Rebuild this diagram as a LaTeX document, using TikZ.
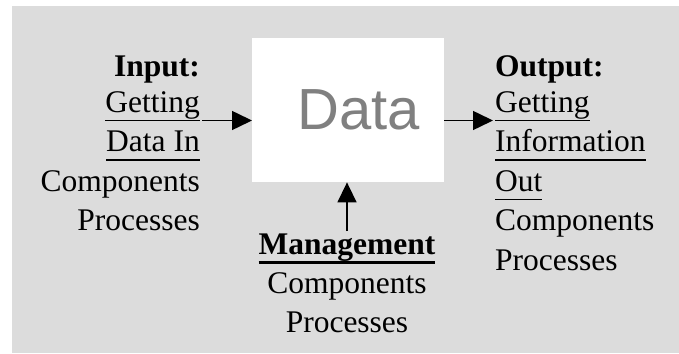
\documentclass[tikz,border=0pt]{standalone}
\usepackage{fontspec}
\setmainfont{Liberation Serif}
\newfontfamily\arialfont{Liberation Sans}
\usetikzlibrary{arrows.meta}
\definecolor{panelgray}{RGB}{220,220,220}
\definecolor{datagray}{RGB}{128,128,128}
% underline at a fixed depth below the baseline
\newcommand{\ulword}[2][1.5pt]{\setbox0\hbox{#2}\rlap{\rule[-9pt]{\wd0}{#1}}\box0}
\begin{document}
\begin{tikzpicture}[x=1pt,y=1pt,
  txt/.style={inner sep=0pt, font=\fontsize{31.5}{36}\selectfont},
  link/.style={line width=1.5pt, -{Triangle[length=20pt,width=19pt]}}]
\useasboundingbox (0,0) rectangle (679,353);
\fill[panelgray] (12,0) rectangle (679,347);
% central store
\node[fill=white, minimum width=192pt, minimum height=144pt, inner sep=0pt,
      anchor=north west] (box) at (252,315) {};
\node[anchor=base, text=datagray, inner sep=0pt,
      font=\arialfont\fontsize{58}{60}\selectfont] (data) at (359,223) {Data};
% input column
\node[txt, anchor=base east] (in1) at (200,276) {\textbf{Input:}};
\foreach \t [count=\i from 2] in {\ulword{Getting},\ulword{Data In},Components,Processes}
  \node[txt, anchor=base east] (in\i) at (200,{280-39.5*(\i-1)}) {\t};
% output column
\node[txt, anchor=base west] (out1) at (495,276) {\textbf{Output:}};
\foreach \t [count=\i from 2] in {\ulword{Getting},\ulword{Information},\ulword{Out},Components,Processes}
  \node[txt, anchor=base west] (out\i) at (495,{280-39.5*(\i-1)}) {\t};
% management column
\foreach \t [count=\i] in {\textbf{\ulword[3pt]{Management}},Components,Processes}
  \node[txt, anchor=base] (mg\i) at (347,{98-39*(\i-1)}) {\t};
% connectors
\coordinate (inTail) at ([xshift=2pt,yshift=-8pt]in2.base east);
\coordinate (outTip) at ([xshift=-2pt,yshift=-8pt]out2.base west);
\draw[link] (inTail) -- (inTail -| box.west);
\draw[link] (outTip -| box.east) -- (outTip);
\draw[link] ([yshift=3pt]mg1.north) -- (mg1.north |- box.south);
\end{tikzpicture}
\end{document}
